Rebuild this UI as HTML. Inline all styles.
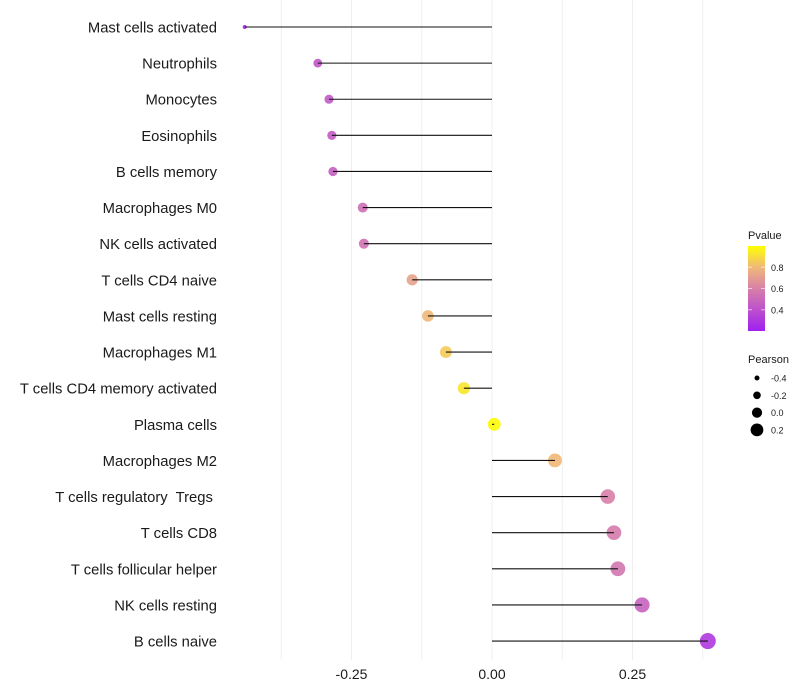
<!DOCTYPE html>
<html><head><meta charset="utf-8"><style>
body{margin:0;background:#fff;}
svg{display:block;font-family:"Liberation Sans",sans-serif;}
text{white-space:pre;}
</style></head><body>
<svg id="chart" width="800" height="700" xmlns="http://www.w3.org/2000/svg">
<defs><linearGradient id="pg" x1="0" y1="1" x2="0" y2="0">
<stop offset="0" stop-color="#a020f0"/><stop offset="0.5" stop-color="#d880a8"/><stop offset="0.75" stop-color="#f0b878"/><stop offset="1" stop-color="#ffff00"/></linearGradient></defs>
<g id="grid"></g>
<g id="ylabels"></g>
<g id="xlabels"></g>
<g id="marks"></g>
<g>
<text x="748" y="239" font-size="11" fill="#1a1a1a">Pvalue</text>
<rect x="748" y="246" width="17" height="85" fill="url(#pg)"/>
<g id="cbticks"></g>
</g>
<g>
<text x="748" y="363" font-size="11" fill="#1a1a1a">Pearson</text>
<g id="sizeleg"></g>
</g>
</svg>
<script>
const categories=["Mast cells activated","Neutrophils","Monocytes","Eosinophils","B cells memory","Macrophages M0","NK cells activated","T cells CD4 naive","Mast cells resting","Macrophages M1","T cells CD4 memory activated","Plasma cells","Macrophages M2","T cells regulatory  Tregs ","T cells CD8","T cells follicular helper","NK cells resting","B cells naive"];
const pearson=[-0.44,-0.31,-0.29,-0.285,-0.283,-0.23,-0.228,-0.142,-0.114,-0.082,-0.05,0.004,0.112,0.206,0.217,0.224,0.267,0.384];
const pvalue=[0.22,0.42,0.44,0.45,0.46,0.53,0.54,0.72,0.8,0.85,0.93,0.99,0.8,0.6,0.58,0.56,0.48,0.3];
const xTicks=[-0.25,0,0.25];
const xTickLabels=["-0.25","0.00","0.25"];
const gridVals=[-0.375,-0.25,-0.125,0,0.125,0.25,0.375];
const cbTicks=[0.4,0.6,0.8];
const sizeLegVals=[-0.4,-0.2,0,0.2];
const NS="http://www.w3.org/2000/svg";
const X=v=>492+v*562;
const Y=i=>27+i*36.12;
const pMin=0.2,pMax=1.0;
const cbY=p=>331-(p-pMin)/(pMax-pMin)*85;
const vMin=-0.44,vMax=0.384;
const R=v=>2+6*Math.sqrt(Math.max(0,(v-vMin)/(vMax-vMin)));
function lerp(a,b,t){return a.map((x,k)=>Math.round(x+(b[k]-x)*t));}
const stopsT=[0,0.5,0.75,1];
const stopsC=[[160,32,240],[216,128,168],[240,184,120],[255,255,0]];
function color(p){const t=Math.max(0,Math.min(1,(p-pMin)/(pMax-pMin)));
let k=0;while(k<stopsT.length-2&&t>stopsT[k+1])k++;
const c=lerp(stopsC[k],stopsC[k+1],(t-stopsT[k])/(stopsT[k+1]-stopsT[k]));return `rgb(${c})`;}
function mk(tag,attrs,parent){const e=document.createElementNS(NS,tag);for(const k in attrs)e.setAttribute(k,attrs[k]);document.getElementById(parent).appendChild(e);return e;}
gridVals.forEach(v=>{const l=mk('line',{x1:X(v),x2:X(v),y1:0,y2:660,stroke:'#efefef','stroke-width':1},'grid');

});
xTicks.forEach((v,i)=>{const t=mk('text',{x:X(v),y:679,'text-anchor':'middle','font-size':14,fill:'#1a1a1a'},'xlabels');t.textContent=xTickLabels[i];

});
categories.forEach((c,i)=>{
const t=mk('text',{x:217,y:Y(i)+5.5,'text-anchor':'end','font-size':14.8,fill:'#1a1a1a'},'ylabels');t.textContent=c;


const d=mk('circle',{cx:X(pearson[i]),cy:Y(i),r:R(pearson[i]),fill:color(pvalue[i]),'fill-opacity':0.9},'marks');


const s=mk('line',{x1:X(0),x2:X(pearson[i]),y1:Y(i),y2:Y(i),stroke:'#111','stroke-width':1.1},'marks');


});
cbTicks.forEach(p=>{
const l=mk('line',{x1:748,x2:752,y1:cbY(p),y2:cbY(p),stroke:'#fff','stroke-opacity':0.6},'cbticks');


const l2=mk('line',{x1:761,x2:765,y1:cbY(p),y2:cbY(p),stroke:'#fff','stroke-opacity':0.6},'cbticks');


const t=mk('text',{x:771,y:cbY(p)+3.5,'font-size':9,fill:'#1a1a1a'},'cbticks');t.textContent=p.toFixed(1);

});
sizeLegVals.forEach((v,i)=>{const y=378+i*17.3;
const c=mk('circle',{cx:757,cy:y,r:Math.min(R(v),2.5+i*1.3),fill:'#000'},'sizeleg');


const t=mk('text',{x:771,y:y+3.5,'font-size':9,fill:'#1a1a1a'},'sizeleg');t.textContent=v.toFixed(1);

});
</script>
</body></html>
